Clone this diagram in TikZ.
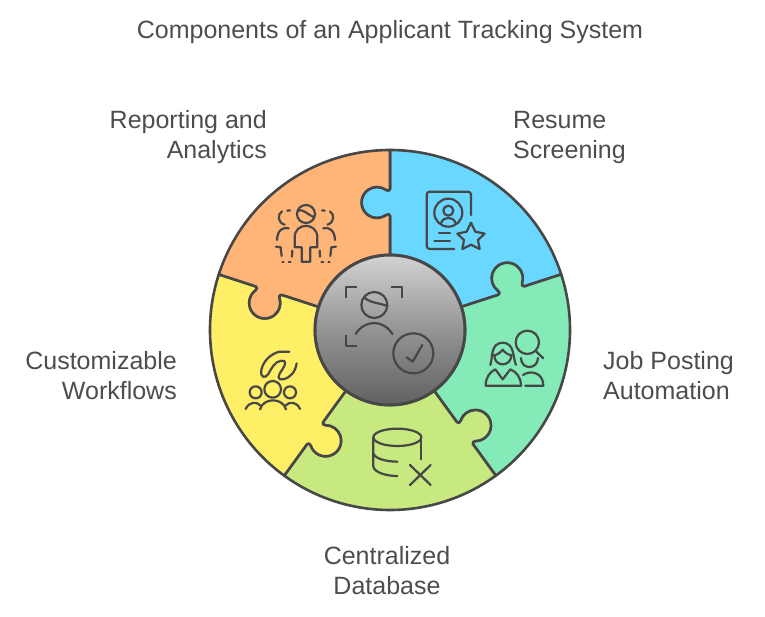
\documentclass[tikz,border=0pt]{standalone}
\usepackage{fontspec}
\setmainfont{Liberation Sans}
\definecolor{ink}{HTML}{474747}
\definecolor{txt}{HTML}{4D4D4D}
\definecolor{cblue}{HTML}{69D7FF}
\definecolor{corange}{HTML}{FFB578}
\definecolor{cyellow}{HTML}{FFEF66}
\definecolor{clime}{HTML}{C8E980}
\definecolor{cgreen}{HTML}{84EAB8}
\tikzset{
  piece/.style={draw=ink,line width=2.6pt,line join=round},
  hub/.style={draw=ink,line width=3pt,top color=gray!35!white,bottom color=black!62!white,middle color=black!42!white},
  icon/.style={draw=ink,line width=2.2pt,line cap=round,line join=round},
  lab/.style={inner sep=0pt,text=txt,font=\fontsize{25}{25}\selectfont},
  zoomed/.style={x=0.33333pt,y=-0.33333pt}
}
% one puzzle piece, between the radial lines at 0 and 72 degrees of its own frame
\newcommand{\puzzlepiece}[2]{%
  \begin{scope}[rotate=#1]
  \path[piece,fill=#2]
    (75,0) -- (114,0) .. controls (116.5,0) and (115.9,2.5) .. (114.8,4.1)
    arc[start angle=215,end angle=-35,radius=15.5]
    .. controls (139.1,2.5) and (139,0) .. (141,0) -- (180,0)
    arc[start angle=0,end angle=72,radius=180]
    {[rotate=72] -- (141,0) .. controls (139,0) and (139.1,2.5) .. (140.2,4.1)
    arc[start angle=-35,end angle=215,radius=15.5]
    .. controls (115.9,2.5) and (116.5,0) .. (114,0) -- (75,0)}
    arc[start angle=72,end angle=0,radius=75] -- cycle;
  \end{scope}}
\begin{document}
\begin{tikzpicture}[x=1pt,y=1pt]
\useasboundingbox (-390,-286) rectangle (375,330);
\puzzlepiece{18}{cblue}
\puzzlepiece{306}{cgreen}
\puzzlepiece{234}{clime}
\puzzlepiece{162}{cyellow}
\puzzlepiece{90}{corange}
\node[circle,hub,minimum size=150pt,inner sep=0pt] (core) at (0,0) {};

% labels
\begin{scope}[shift={(-390,330)},x=1pt,y=-1pt]
\node[lab,anchor=base] (title) at (390,39) {Components of an Applicant Tracking System};
\node[lab,anchor=base east] (rep1) at (267,129) {Reporting and};
\node[lab,anchor=base east] (rep2) at (267,159) {Analytics};
\node[lab,anchor=base west] (res1) at (513,129) {Resume};
\node[lab,anchor=base west] (res2) at (513,159) {Screening};
\node[lab,anchor=base west] (job1) at (603,369) {Job Posting};
\node[lab,anchor=base west] (job2) at (603,399) {Automation};
\node[lab,anchor=base] (cen1) at (387,564) {Centralized};
\node[lab,anchor=base] (cen2) at (387,594) {Database};
\node[lab,anchor=base east] (cus1) at (177,369) {Customizable};
\node[lab,anchor=base east] (cus2) at (177,399) {Workflows};
\end{scope}

% orange icon
\begin{scope}[shift={(200-390,330-140)},zoomed]
\draw[icon] (318,222) circle[radius=27];
\draw[icon] (294,212) .. controls (310,205) and (325,226) .. (343,232);
\draw[icon] (305,365) -- (305,322) -- (284,322) -- (284,292) .. controls (284,246) and (352,246) .. (352,292) -- (352,322) -- (331,322) -- (331,365) -- cycle;
\foreach \s in {1,-1}{
 \begin{scope}[shift={(318,0)},xscale=\s]
 \draw[icon] (-56,212) -- (-48,211);
 \draw[icon] (-72,214) .. controls (-86,222) and (-86,248) .. (-64,254);
 \draw[icon] (-52,265) .. controls (-68,260) and (-86,270) .. (-87,300);
 \draw[icon] (-90,320) -- (-76,322) -- (-73,348);
 \draw[icon] (-71,366) -- (-67,366);
 \draw[icon] (-52,366) -- (-46,366);
 \draw[icon] (-42,350) -- (-41,332);
 \end{scope}}
\end{scope}

% blue icon
\begin{scope}[shift={(385-390,330-140)},zoomed]
\draw[icon,rounded corners=3pt] (258,225) -- (258,155) -- (125,155) -- (125,327) -- (208,327);
\draw[icon] (190,218) circle[radius=42];
\draw[icon] (190,212) circle[radius=15];
\draw[icon] (168,250) .. controls (174,228) and (206,228) .. (212,250);
\draw[icon] (162,280) -- (195,280);
\draw[icon] (148,302) -- (195,302);
\draw[icon] (258,248) -- (271,275) -- (299,281) -- (279,300) -- (284,327) -- (258,314) -- (232,327) -- (237,300) -- (217,281) -- (245,275) -- cycle;
\end{scope}

% green icon
\begin{scope}[shift={(385-390,330-320)},zoomed]
\draw[icon] (427,67) circle[radius=35];
\draw[icon] (452,93) -- (475,115);
\draw[icon] (316,135) .. controls (324,110) and (316,70) .. (353,68) .. controls (390,70) and (382,110) .. (393,135);
\draw[icon] (326,106) .. controls (338,104) and (346,98) .. (353,89) .. controls (360,98) and (368,104) .. (380,106);
\draw[icon] (328,106) .. controls (328,142) and (378,142) .. (379,106);
\draw[icon] (302,197) .. controls (302,172) and (315,155) .. (331,148) -- (353,178) -- (376,148) .. controls (394,155) and (408,172) .. (408,197) -- cycle;
\draw[icon] (408,114) .. controls (408,150) and (458,150) .. (459,114);
\draw[icon] (414,165) .. controls (440,148) and (475,160) .. (475,197) -- (421,197);
\end{scope}

% lime icon
\begin{scope}[shift={(360-390,330-420)},zoomed]
\draw[icon] (112,52) ellipse[x radius=72,y radius=26];
\draw[icon] (40,52) -- (40,140) .. controls (44,158) and (80,168) .. (112,168);
\draw[icon] (40,100) .. controls (44,116) and (80,125) .. (112,125);
\draw[icon] (184,52) -- (184,118);
\draw[icon] (150,135) -- (212,195);
\draw[icon] (212,135) -- (150,195);
\end{scope}

% yellow icon
\begin{scope}[shift={(200-390,330-320)},zoomed]
\draw[icon] (268,95) -- (238,95) .. controls (212,102) and (190,122) .. (184,150) .. controls (180,174) and (196,176) .. (205,162) .. controls (214,146) and (224,124) .. (244,122) .. controls (262,120) and (256,136) .. (246,150) .. controls (232,168) and (232,182) .. (250,178) .. controls (272,172) and (286,156) .. (290,130);
\draw[icon] (218,208) circle[radius=25];
\draw[icon] (167,217) circle[radius=18];
\draw[icon] (270,217) circle[radius=18];
\draw[icon] (180,268) .. controls (190,232) and (248,232) .. (258,268);
\draw[icon] (137,267) .. controls (146,246) and (170,242) .. (183,258);
\draw[icon] (255,258) .. controls (268,242) and (292,246) .. (300,267);
\end{scope}

% hub icon
\begin{scope}[shift={(310-390,330-250)},zoomed]
\draw[icon,line cap=butt] (108,143) -- (108,110) -- (142,110);
\draw[icon,line cap=butt] (243,110) -- (277,110) -- (277,143);
\draw[icon,line cap=butt] (108,255) -- (108,288) -- (142,288);
\draw[icon] (193,165) circle[radius=39];
\draw[icon] (163,141) .. controls (175,158) and (205,158) .. (232,168);
\draw[icon] (137,252) .. controls (165,208) and (220,208) .. (247,252);
\draw[icon] (310,310) circle[radius=60];
\draw[icon] (290,322) -- (308,335) -- (337,285);
\end{scope}
\end{tikzpicture}
\end{document}
